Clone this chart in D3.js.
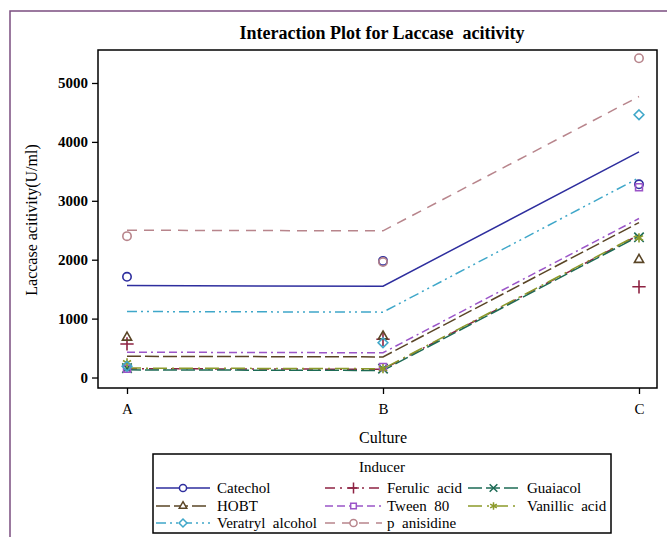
<!DOCTYPE html>
<html>
<head>
<meta charset="utf-8">
<script src="https://cdn.jsdelivr.net/npm/d3@7"></script>
<style>
  body { margin: 0; background: #fff; }
  text { font-family: "Liberation Serif", "DejaVu Serif", serif; }
</style>
</head>
<body>
<div id="chart"></div>
<script>
// categories and series
const cultures = ["A", "B", "C"];
const inducers = ["Catechol", "Ferulic  acid", "Guaiacol", "HOBT", "Tween  80", "Vanillic  acid", "Veratryl  alcohol", "p  anisidine"];

// fitted lines (A, B, C)
const fitCatechol = [1560, 1550, 3830];
const fitFerulic  = [150, 140, 2420];
const fitGuaiacol = [130, 120, 2400];
const fitHOBT     = [360, 350, 2630];
const fitTween    = [430, 420, 2700];
const fitVanillic = [160, 150, 2430];
const fitVeratryl = [1120, 1110, 3390];
const fitAnisidine = [2500, 2490, 4770];

// observed values (A, B, C)
const obsCatechol = [1710, 1980, 3280];
const obsFerulic  = [570, 650, 1540];
const obsGuaiacol = [160, 150, 2380];
const obsHOBT     = [680, 700, 2000];
const obsTween    = [150, 180, 3230];
const obsVanillic = [250, 150, 2370];
const obsVeratryl = [190, 590, 4460];
const obsAnisidine = [2400, 1960, 5420];

const yTicks = [0, 1000, 2000, 3000, 4000, 5000];

const fits = [fitCatechol, fitFerulic, fitGuaiacol, fitHOBT, fitTween, fitVanillic, fitVeratryl, fitAnisidine];
const obs = [obsCatechol, obsFerulic, obsGuaiacol, obsHOBT, obsTween, obsVanillic, obsVeratryl, obsAnisidine];

const colors = ["#2e2e9e", "#8e2343", "#1d6b55", "#5a4526", "#9b55c8", "#8c9a2a", "#3fa7c9", "#b8858c"];
const dashes = [null, "10,5,2,5", "14,4", "14,4", "8,4,8,4,2,4", "14,5,2,5", "10,4,2,4,2,4", "10,7"];
const symbols = [d3.symbolCircle, d3.symbolPlus, d3.symbolTimes, d3.symbolTriangle2, d3.symbolSquare2, d3.symbolAsterisk, d3.symbolDiamond2, d3.symbolCircle];

const W = 667, H = 537;
const svg = d3.select("#chart").append("svg")
    .attr("width", W)
    .attr("height", H);

// outer frame
svg.append("rect")
    .attr("x", 10).attr("y", 11)
    .attr("width", W + 10).attr("height", H + 10)
    .attr("fill", "none")
    .attr("stroke", "#7b4d80")
    .attr("stroke-width", 1.5);

svg.append("text")
    .attr("x", 382).attr("y", 39)
    .attr("text-anchor", "middle")
    .style("font-size", "18px")
    .style("font-weight", "bold")
    .style("white-space", "pre")
    .text("Interaction Plot for Laccase  acitivity");

const plot = { left: 98, right: 657, top: 50, bottom: 388 };

const x = d3.scalePoint()
    .domain(cultures)
    .range([127, 639]);

const y = d3.scaleLinear()
    .domain([-178, 5560])
    .range([plot.bottom, plot.top]);

// y axis
const yAxis = svg.append("g")
    .attr("transform", `translate(${plot.left}, 0)`)
    .call(d3.axisLeft(y).tickValues(yTicks).tickSize(6).tickPadding(4).tickFormat(d3.format("d")));
yAxis.select(".domain").remove();
yAxis.selectAll("text")
    .style("font-family", "Liberation Serif")
    .style("font-size", "15px")
    .style("font-weight", "bold")
    .attr("fill", "#000");
yAxis.selectAll("line").attr("stroke", "#000").attr("stroke-width", 1.3);

// x axis
const xAxis = svg.append("g")
    .attr("transform", `translate(0, ${plot.bottom})`)
    .call(d3.axisBottom(x).tickSize(6).tickPadding(9));
xAxis.select(".domain").remove();
xAxis.selectAll("text")
    .style("font-family", "Liberation Serif")
    .style("font-size", "15px")
    .attr("fill", "#000");
xAxis.selectAll("line").attr("stroke", "#000").attr("stroke-width", 1.3);

// plot frame
svg.append("rect")
    .attr("x", plot.left).attr("y", plot.top)
    .attr("width", plot.right - plot.left)
    .attr("height", plot.bottom - plot.top)
    .attr("fill", "none")
    .attr("stroke", "#000")
    .attr("stroke-width", 1.5);

// axis titles
svg.append("text")
    .attr("transform", "translate(37, 220) rotate(-90)")
    .attr("text-anchor", "middle")
    .style("font-size", "16px")
    .text("Laccase acitivity(U/ml)");

svg.append("text")
    .attr("x", 383).attr("y", 443)
    .attr("text-anchor", "middle")
    .style("font-size", "16px")
    .text("Culture");

const line = d3.line()
    .x((d, i) => x(cultures[i]))
    .y(d => y(d));

fits.forEach((s, k) => {
    svg.append("path")
        .attr("d", line(s))
        .attr("fill", "none")
        .attr("stroke", colors[k])
        .attr("stroke-width", 1.5)
        .attr("stroke-dasharray", dashes[k]);
});

obs.forEach((s, k) => {
    s.forEach((v, i) => {
        svg.append("path")
            .attr("transform", `translate(${x(cultures[i])}, ${y(v)})`)
            .attr("d", d3.symbol().type(symbols[k]).size(symbols[k] === d3.symbolCircle ? 55 : 60)())
            .attr("fill", "none")
            .attr("stroke", colors[k])
            .attr("stroke-width", 1.6);
    });
});

// legend
const lg = svg.append("g");
lg.append("rect")
    .attr("x", 153).attr("y", 454)
    .attr("width", 458).attr("height", 79)
    .attr("fill", "#fff")
    .attr("stroke", "#000")
    .attr("stroke-width", 1.5);
lg.append("text")
    .attr("x", 382).attr("y", 472)
    .attr("text-anchor", "middle")
    .style("font-size", "15px")
    .text("Inducer");

const colLine = [[156, 210], [325, 382], [468, 519]];
const colText = [217, 387, 527];
const rowY = [493, 511, 528];
inducers.forEach((name, k) => {
    const c = k % 3, cy = rowY[Math.floor(k / 3)];
    const [x1, x2] = colLine[c];
    lg.append("line")
        .attr("x1", x1).attr("x2", x2)
        .attr("y1", cy - 5).attr("y2", cy - 5)
        .attr("stroke", colors[k])
        .attr("stroke-width", 1.5)
        .attr("stroke-dasharray", dashes[k]);
    lg.append("path")
        .attr("transform", `translate(${(x1 + x2) / 2}, ${cy - 5})`)
        .attr("d", d3.symbol().type(symbols[k]).size(40)())
        .attr("fill", "#fff")
        .attr("stroke", colors[k])
        .attr("stroke-width", 1.5);
    lg.append("text")
        .attr("x", colText[c]).attr("y", cy)
        .style("font-size", "15px")
        .style("white-space", "pre")
        .text(name);
});
</script>
</body>
</html>
